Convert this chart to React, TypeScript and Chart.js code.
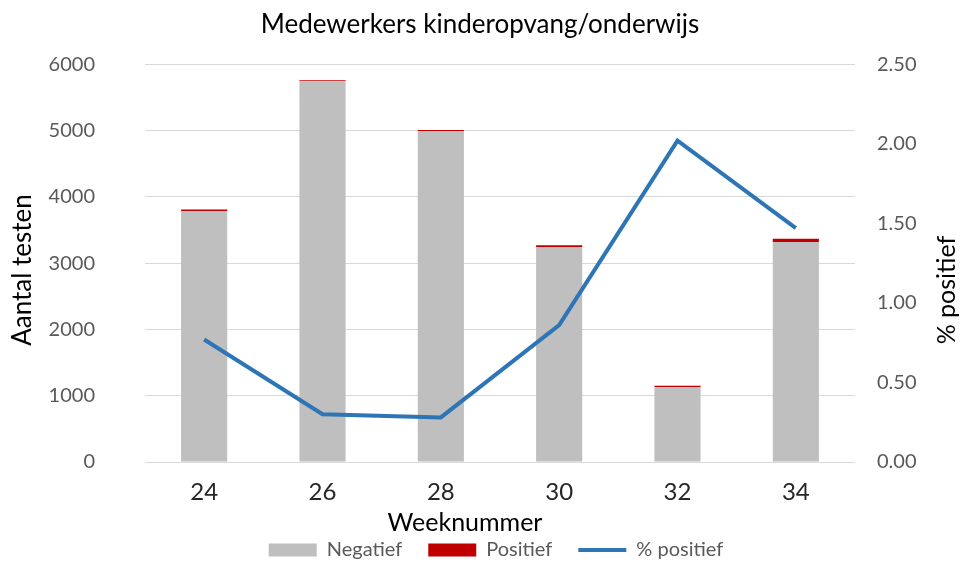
import React, { useEffect, useRef } from "react";
import { Chart, registerables } from "chart.js";

Chart.register(...registerables);

const weeks = ["24", "26", "28", "30", "32", "34"];
const negatief = [3781, 5741, 4993, 3241, 1126, 3317];
const positief = [29, 17, 14, 28, 23, 49];
const pctPositief = [0.77, 0.3, 0.28, 0.86, 2.02, 1.47];

const FONT = "Lato, 'Noto Sans', sans-serif";

const extraTitlesPlugin = {
  id: "extraTitles",
  afterDraw(chart: any) {
    const ctx = chart.ctx;
    ctx.save();
    ctx.font = `25px ${FONT}`;
    ctx.fillStyle = "#000000";
    ctx.textAlign = "center";
    ctx.textBaseline = "middle";
    ctx.fillText("Weeknummer", 465, 523);
    ctx.save();
    ctx.translate(947, 290);
    ctx.rotate(-Math.PI / 2);
    ctx.fillText("% positief", 0, 0);
    ctx.restore();
    ctx.font = `26px ${FONT}`;
    ctx.translate(23, 270);
    ctx.rotate(-Math.PI / 2);
    ctx.fillText("Aantal testen", 0, 0);
    ctx.restore();
  },
};

const legendMovePlugin = {
  id: "legendMove",
  afterLayout(chart: any) {
    const lg = chart.legend;
    if (lg) {
      const h = lg.height;
      lg.top = 514;
      lg.bottom = 514 + h;
      lg.left += 16;
      lg.right += 16;
    }
  },
};

export default function App() {
  const ref = useRef<HTMLCanvasElement>(null);
  useEffect(() => {
    document.body.style.margin = "0";
    const chart = new Chart(ref.current!, {
      type: "bar",
      data: {
        labels: weeks,
        datasets: [
          {
            label: "Negatief",
            data: negatief,
            backgroundColor: "#BFBFBF",
            yAxisID: "y",
            stack: "s",
            barPercentage: 0.39,
            categoryPercentage: 1,
            order: 2,
          },
          {
            label: "Positief",
            data: positief,
            backgroundColor: "#C00000",
            yAxisID: "y",
            stack: "s",
            barPercentage: 0.39,
            categoryPercentage: 1,
            order: 2,
          },
          {
            type: "line",
            label: "% positief",
            data: pctPositief,
            borderColor: "#2E75B6",
            backgroundColor: "#2E75B6",
            borderWidth: 4,
            pointRadius: 0,
            pointStyle: "line",
            tension: 0,
            yAxisID: "y1",
            order: 1,
          } as any,
        ],
      },
      options: {
        animation: false,
        responsive: false,
        maintainAspectRatio: false,
        layout: { padding: { left: 0, right: 0, top: 0, bottom: -28 } },
        plugins: {
          tooltip: { enabled: false },
          title: {
            display: true,
            text: "Medewerkers kinderopvang/onderwijs",
            color: "#000000",
            font: { family: FONT, size: 26, weight: "normal" as any, lineHeight: 1.2 },
            padding: { top: 9, bottom: 24 },
          },
          legend: {
            position: "bottom",
            labels: {
              color: "#595959",
              font: { family: FONT, size: 20 },
              usePointStyle: true,
              pointStyleWidth: 48,
              boxHeight: 13,
              padding: 26,
              generateLabels(chart: any) {
                const items = Chart.defaults.plugins.legend.labels.generateLabels(chart);
                items.sort((a: any, b: any) => a.datasetIndex - b.datasetIndex);
                items.forEach((it: any) => {
                  if (it.datasetIndex < 2) {
                    it.pointStyle = "rect";
                    it.lineWidth = 0;
                  } else {
                    it.pointStyle = "line";
                    it.lineWidth = 4;
                    it.strokeStyle = "#2E75B6";
                  }
                });
                return items;
              },
            },
          },
        },
        scales: {
          x: {
            stacked: true,
            grid: { display: false },
            border: { display: false },
            ticks: { color: "#262626", font: { family: FONT, size: 24 }, padding: 8 },
            title: { display: false },
            afterFit(scale: any) {
              scale.height = 74;
            },
          },
          y: {
            stacked: true,
            position: "left",
            min: 0,
            max: 6000,
            ticks: {
              stepSize: 1000,
              color: "#595959",
              font: { family: FONT, size: 20 },
              padding: 50,
              callback: (v: any) => String(v),
            },
            grid: { color: "#D9D9D9", lineWidth: 1, drawTicks: false },
            border: { display: false },
            title: { display: false },
            afterFit(scale: any) {
              scale.width = 145;
            },
          },
          y1: {
            position: "right",
            min: 0,
            max: 2.5,
            ticks: {
              stepSize: 0.5,
              color: "#595959",
              font: { family: FONT, size: 20 },
              padding: 22,
              callback: (v: any) => Number(v).toFixed(2),
            },
            grid: { drawOnChartArea: false, drawTicks: false },
            border: { display: false },
            afterFit(scale: any) {
              scale.width = 105;
            },
          },
        },
      },
      plugins: [extraTitlesPlugin, legendMovePlugin],
    });
    return () => chart.destroy();
  }, []);
  return (
    <div style={{ width: 960, height: 564, background: "#ffffff" }}>
      <canvas ref={ref} width={960} height={564} style={{ display: "block" }} />
    </div>
  );
}
